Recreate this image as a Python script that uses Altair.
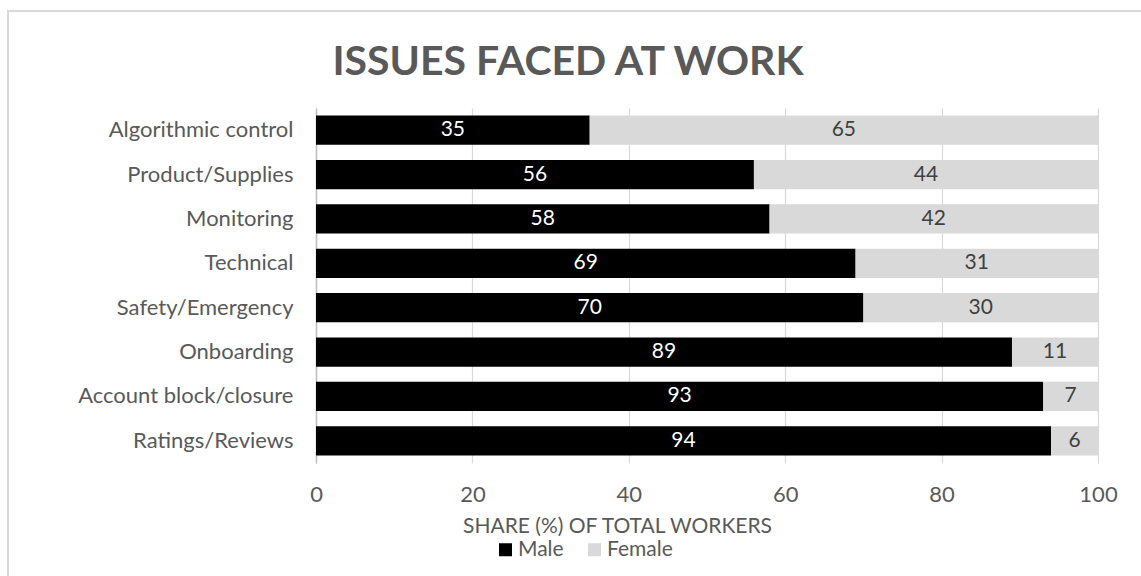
import altair as alt
import pandas as pd

categories = ["Algorithmic control", "Product/Supplies", "Monitoring", "Technical",
              "Safety/Emergency", "Onboarding", "Account block/closure", "Ratings/Reviews"]
male = [35, 56, 58, 69, 70, 89, 93, 94]
female = [65, 44, 42, 31, 30, 11, 7, 6]
genders = ["Male", "Female"]
x_ticks = [0, 20, 40, 60, 80, 100]
title_text = "ISSUES FACED AT WORK"

rows = []
for c, m, f in zip(categories, male, female):
    rows.append({"issue": c, "gender": "Male", "share": m, "ord": 0})
    rows.append({"issue": c, "gender": "Female", "share": f, "ord": 1})
df = pd.DataFrame(rows)

FONT = "Lato"
GREY = "#595959"

base = alt.Chart(df).transform_stack(
    stack="share", groupby=["issue"], as_=["s0", "s1"],
    sort=[alt.SortField("ord", order="ascending")]
).transform_calculate(mid="(datum.s0 + datum.s1) / 2")

y_enc = alt.Y("issue:N", sort=categories, title=None,
              scale=alt.Scale(paddingInner=0.34, paddingOuter=0.17),
              axis=alt.Axis(labelFont=FONT, labelFontSize=22, labelColor=GREY,
                            labelLimit=400,
                            ticks=False, labelPadding=23, domainColor="#bfbfbf",
                            domainWidth=1.5, grid=False))

bars = base.mark_bar().encode(
    x=alt.X("s0:Q", scale=alt.Scale(domain=[0, 100], nice=False),
            axis=alt.Axis(values=x_ticks, title="SHARE (%) OF TOTAL WORKERS",
                          titleFont=FONT, titleFontSize=21, titleFontWeight="normal",
                          titleColor=GREY, titleX=301, titleY=69, titleAlign="center",
                          titleBaseline="alphabetic",
                          labelFont=FONT, labelFontSize=22, labelColor=GREY,
                          labelFlush=False,
                          labelPadding=21, ticks=False, domain=False,
                          grid=True, gridColor="#d9d9d9", gridWidth=1.2)),
    x2="s1:Q",
    y=y_enc,
    color=alt.Color("gender:N", sort=genders,
                    scale=alt.Scale(domain=genders, range=["#000000", "#d9d9d9"]),
                    legend=alt.Legend(title=None, orient="none", legendX=179, legendY=431,
                                      direction="horizontal", symbolType="square",
                                      symbolSize=169, symbolStrokeWidth=0,
                                      labelFont=FONT, labelFontSize=21, labelColor=GREY,
                                      labelOffset=2, columnPadding=20)),
)

labels = base.mark_text(font=FONT, fontSize=21, baseline="middle", align="center").encode(
    x="mid:Q",
    y=alt.Y("issue:N", sort=categories),
    text="share:Q",
    color=alt.condition(alt.datum.gender == "Male", alt.value("#ffffff"), alt.value("#404040")),
)

border = alt.Chart(pd.DataFrame({"k": [0]})).mark_rect(
    fillOpacity=0, stroke="#d9d9d9", strokeWidth=2
).encode(x=alt.value(-308), x2=alt.value(900), y=alt.value(-97), y2=alt.value(600))

title = alt.Chart(pd.DataFrame({"t": [title_text]})).mark_text(
    font=FONT, fontSize=41, fontWeight="bold", color=GREY, align="center", baseline="alphabetic"
).encode(text="t:N", x=alt.value(252), y=alt.value(-33))

chart = alt.layer(border, bars, labels, title).properties(
    width=782, height=355,
    background="white",
    autosize=alt.AutoSizeParams(type="none"),
    padding={"left": 316, "top": 108, "right": 43, "bottom": 113},
).configure_view(strokeOpacity=0, strokeWidth=0)

chart.save("out.html", embed_options={"renderer": "svg", "actions": False})
